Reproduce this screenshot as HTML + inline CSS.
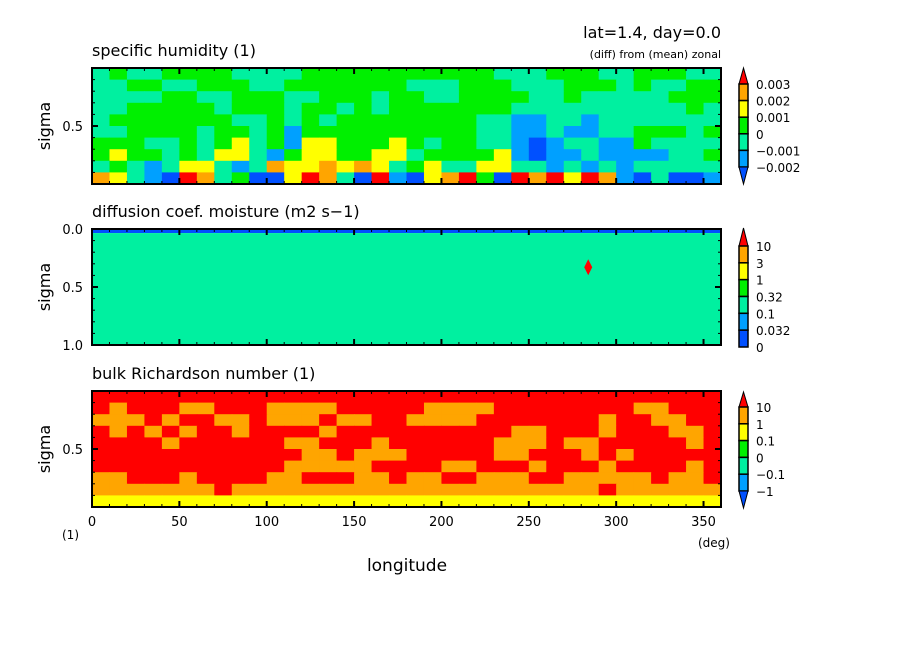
<!DOCTYPE html>
<html><head><meta charset="utf-8"><style>
body{margin:0;background:#fff;}
svg{display:block;font-family:"DejaVu Sans","Liberation Sans",sans-serif;}
</style></head><body>
<svg id="chart" width="904" height="654" viewBox="0 0 904 654">
<rect width="904" height="654" fill="#fff"/>
<g id="plots"></g>
<text x="721" y="38" font-size="16" text-anchor="end">lat=1.4, day=0.0</text>
<text x="721" y="58" font-size="11" text-anchor="end">(diff) from (mean) zonal</text>
<text x="92" y="56" font-size="16">specific humidity (1)</text>
<text x="92" y="217" font-size="16">diffusion coef. moisture (m2 s−1)</text>
<text x="92" y="379" font-size="16">bulk Richardson number (1)</text>
<text x="62" y="539" font-size="12">(1)</text>
<text x="698" y="547" font-size="12">(deg)</text>
<text x="407" y="571" font-size="17" text-anchor="middle">longitude</text>
</svg>
<script>
const palette = ["#0050ff","#00a0ff","#00f0a0","#00f000","#ffff00","#ffa500","#ff0000"];
const xTicks = [0,50,100,150,200,250,300,350];
const p1Rows = [
"232233332222333333333332223332233322",
"223322333223333333222333222333232233",
"222233223332233323322333322322222333",
"223333323332332323333333222222222232",
"233333332232323333333322112212222222",
"223333233231333333333322112112233323",
"333223234231443334323322101221132222",
"343323244213443344233334101121111223",
"232124421254454542342244221212122222",
"542106523004652061045630656465102001"];
const p3Rows = [
"666666666666666666666666666666666666",
"656665566655556666655556666666655666",
"555656655655565566555566666665665566",
"656565665666656666666666556665666556",
"666656666665566656666665556556666656",
"666666666666556555666665566656566666",
"666666666665555566665566656665666656",
"556665666655666556556655566555556556",
"555555565555555555555555555556555555",
"444444444444444444444444444444444444"];
const p2SigmaEdges = [0,0.035,1];
const p2Levels = [0,2];
const p2Spots = [{lon:284, sigma:0.33, level:6}];
const cb1Labels = ["0.003","0.002","0.001","0","−0.001","−0.002"];
const cb2Labels = ["10","3","1","0.32","0.1","0.032","0"];
const cb3Labels = ["10","1","0.1","0","−0.1","−1"];

const NS="http://www.w3.org/2000/svg";
const root=document.getElementById('plots');
const X0=92,X1=721;
function xs(l){return X0+(X1-X0)*l/360;}
function mk(t,a,p){const e=document.createElementNS(NS,t);for(const k in a)e.setAttribute(k,a[k]);(p||root).appendChild(e);return e;}

function panel(y0,y1,name){
  const g=mk('g',{});
  
  
  return g;
}
function ys(y0,y1,s){return y0+(y1-y0)*s;}
function drawGrid(g,rows,y0,y1){
  const nr=rows.length;
  rows.forEach((r,i)=>{
    const nc=r.length;
    for(let j=0;j<nc;j++){
      const lv=+r[j];
      const c=mk('rect',{x:xs(j*360/nc),y:ys(y0,y1,i/nr),width:xs((j+1)*360/nc)-xs(j*360/nc)+0.5,height:(y1-y0)/nr+0.5,fill:palette[lv]},g);
      
      
    }
  });
}
function frame(g,y0,y1,yTickLabels){
  mk('rect',{x:X0,y:y0,width:X1-X0,height:y1-y0,fill:'none',stroke:'#000','stroke-width':2},g);
  for(let l=0;l<=360;l+=10){
    const big=l%50===0;const L=big?6:3;
    mk('line',{x1:xs(l),x2:xs(l),y1:y1,y2:y1-L,stroke:'#000','stroke-width':big?2:1},g);
    mk('line',{x1:xs(l),x2:xs(l),y1:y0,y2:y0+L,stroke:'#000','stroke-width':big?2:1},g);
  }
  for(let s=0;s<=10;s++){
    const big=s%5===0;const L=big?6:3;const y=ys(y0,y1,s/10);
    mk('line',{x1:X0,x2:X0+L,y1:y,y2:y,stroke:'#000','stroke-width':big?2:1},g);
    mk('line',{x1:X1,x2:X1-L,y1:y,y2:y,stroke:'#000','stroke-width':big?2:1},g);
  }
  yTickLabels.forEach(t=>{
    const tx=mk('text',{x:83,y:ys(y0,y1,t[0])+5,'font-size':13,'text-anchor':'end'},g);tx.textContent=t[1];
    
    
  });
  const yl=mk('text',{x:0,y:0,'font-size':16,'text-anchor':'middle',transform:`translate(50,${(y0+y1)/2}) rotate(-90)`},g);
  yl.textContent='sigma';
  
  
}
function colorbar(g,top,bounds,bottomTri,labels,colors){
  const x=739,w=9,cx=x+w/2;
  mk('polygon',{points:`${cx},${top} ${x},${bounds[0]} ${x+w},${bounds[0]}`,fill:'#ff0000',stroke:'#000','stroke-width':1},g);
  for(let i=0;i<bounds.length-1;i++){
    mk('rect',{x:x,y:bounds[i],width:w,height:bounds[i+1]-bounds[i],fill:colors[i],stroke:'#000','stroke-width':1.5},g);
  }
  const last=bounds[bounds.length-1];
  if(bottomTri) mk('polygon',{points:`${x},${last} ${x+w},${last} ${cx},${bottomTri}`,fill:'#0050ff',stroke:'#000','stroke-width':1},g);
  labels.forEach((t,i)=>{
    const tx=mk('text',{x:756,y:bounds[i]+5,'font-size':12},g);tx.textContent=t;
    
    
  });
}
function even(a,b,n){const r=[];for(let i=0;i<=n;i++)r.push(a+(b-a)*i/n);return r;}

// Panel 1
let g=panel(68,184,'panel-specific-humidity');
drawGrid(g,p1Rows,68,184);
frame(g,68,184,[[0.5,'0.5']]);
colorbar(g,68,even(84,167,5),184,cb1Labels,["#ffa500","#ffff00","#00f000","#00f0a0","#00a0ff"]);

// Panel 2
g=panel(229,345,'panel-diffusion-coef');
for(let i=0;i<p2Levels.length;i++){
  const r=mk('rect',{x:X0,y:ys(229,345,p2SigmaEdges[i]),width:X1-X0,height:ys(229,345,p2SigmaEdges[i+1])-ys(229,345,p2SigmaEdges[i]),fill:palette[p2Levels[i]]},g);
  
  
}
p2Spots.forEach(s=>{
  const cx=xs(s.lon),cy=ys(229,345,s.sigma);
  const d=mk('polygon',{points:`${cx},${cy-8} ${cx+4},${cy} ${cx},${cy+8} ${cx-4},${cy}`,fill:palette[s.level]},g);
  
  
});
frame(g,229,345,[[0,'0.0'],[0.5,'0.5'],[1,'1.0']]);
colorbar(g,228,even(246,347,6),null,cb2Labels,["#ffa500","#ffff00","#00f000","#00f0a0","#00a0ff","#0050ff"]);

// Panel 3
g=panel(391,507,'panel-richardson');
drawGrid(g,p3Rows,391,507);
frame(g,391,507,[[0.5,'0.5']]);
colorbar(g,392,even(407,491,5),508,cb3Labels,["#ffa500","#ffff00","#00f000","#00f0a0","#00a0ff"]);

xTicks.forEach(t=>{
  const tx=mk('text',{x:xs(t),y:526,'font-size':13,'text-anchor':'middle'});tx.textContent=t;
  
  
});
</script>
</body></html>
